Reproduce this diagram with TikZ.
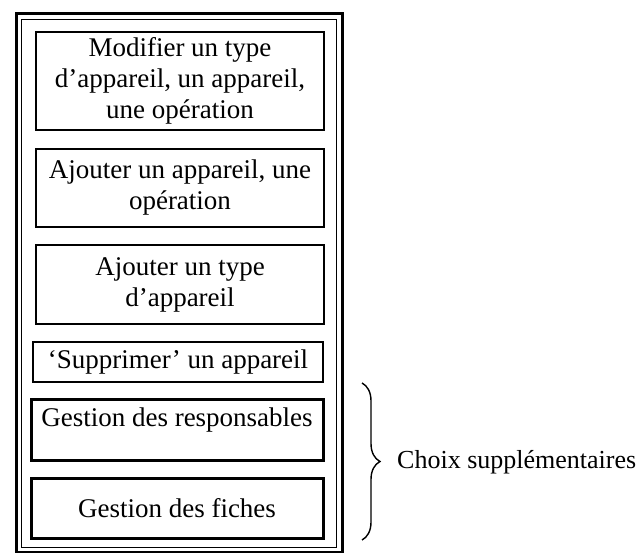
\documentclass[tikz,border=0pt]{standalone}
\usepackage{fontspec}
\setmainfont{Liberation Serif}
\usepackage{tikz}
\usetikzlibrary{decorations.pathreplacing}

\begin{document}
\begin{tikzpicture}[x = 1pt, y = -1pt,
box/.style = {draw, line width = 1.3pt, minimum width = 288pt, inner sep = 0pt, align = center, font = \fontsize{27}{31}\selectfont},
optbox/.style = {box, line width = 3pt, minimum width = 292pt},
lbl/.style = {inner sep = 0pt, anchor = west, font = \fontsize{26}{30}\selectfont}
]
\useasboundingbox (0,0) rectangle (643,553);
% double frame
\draw[line width = 3pt] (16,14) rectangle (342,552);
\draw[line width = 1pt] (21.5,19.5) rectangle (336.5,547.5);
\node[box, minimum height = 98pt] (modif) at (180,81) {Modifier un type\\d’appareil, un appareil,\\une opération};
\node[box, minimum height = 78pt] (ajapp) at (180,188) {Ajouter un appareil, une\\opération};
\node[box, minimum height = 79pt] (ajtype) at (180,284.5) {Ajouter un type\\d’appareil};
\node[box, minimum width = 290pt, minimum height = 40pt] (suppr) at (178,362) {‘Supprimer’ un appareil};
\node[optbox, minimum height = 60pt, text height = 19pt, text depth = 27pt] (resp) at (177,430) {Gestion des responsables};
\node[optbox, minimum height = 60pt] (fiches) at (177,508) {Gestion des fiches};
% brace
\coordinate (btop) at (362,383);
\coordinate (bbot) at (362,540);
\draw[decorate, decoration = {brace, amplitude = 18pt}, line width = 1.4pt] (btop) -- (bbot);
\node[lbl] (choix) at (397,462) {Choix supplémentaires};
\end{tikzpicture}
\end{document}
